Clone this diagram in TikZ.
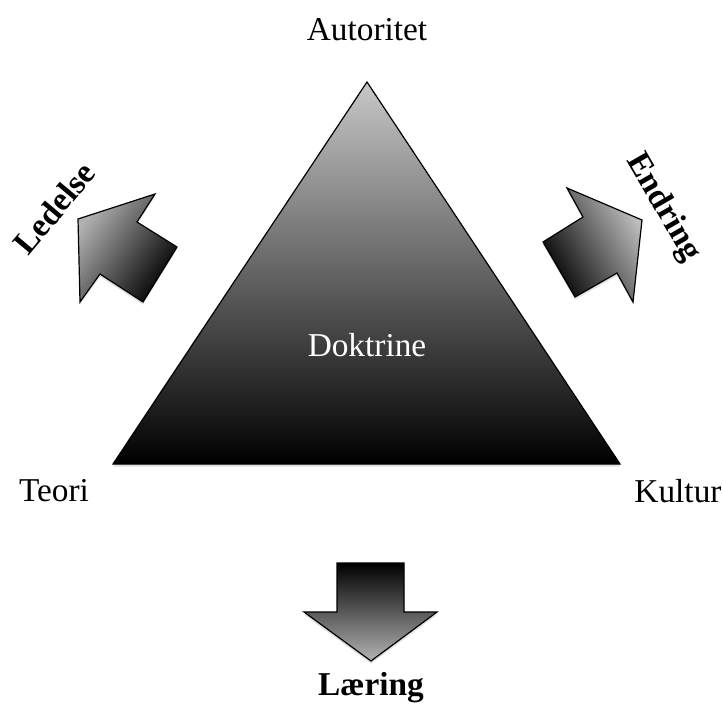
\documentclass[tikz,border=0pt]{standalone}
\usepackage{fontspec}
\setmainfont{Liberation Serif}
\usetikzlibrary{shadows}

\begin{document}
\begin{tikzpicture}[x=0.75pt,y=-0.75pt,
  lbl/.style={font=\fontsize{25}{30}\selectfont},
  blbl/.style={font=\fontsize{25}{30}\selectfont\bfseries},
  form/.style={draw=black, line width=0.9pt, line join=miter,
    drop shadow={opacity=0.25, shadow xshift=0pt, shadow yshift=-2pt}}]
  \useasboundingbox (0,0) rectangle (723,706);

  % triangle
  \coordinate (t0) at (367,82);
  \coordinate (t1) at (113,464);
  \coordinate (t2) at (620,464);

  \shade[form, top color=black!22, bottom color=black] (t0) -- (t1) -- (t2) -- cycle;

  % left arrow
  \coordinate (l0) at (78,219);
  \coordinate (l1) at (155,194);
  \coordinate (l2) at (137,222);
  \coordinate (l3) at (177,247);
  \coordinate (l4) at (143,302);
  \coordinate (l5) at (100,274);
  \coordinate (l6) at (80,302);

  \shade[form, top color=black!30, bottom color=black, shading angle=55]
    (l0) -- (l1) -- (l2) -- (l3) -- (l4) -- (l5) -- (l6) -- cycle;

  % right arrow
  \coordinate (r0) at (642,220);
  \coordinate (r1) at (567,188);
  \coordinate (r2) at (583,217);
  \coordinate (r3) at (543,242);
  \coordinate (r4) at (575,297);
  \coordinate (r5) at (617,273);
  \coordinate (r6) at (633,302);

  \shade[form, top color=black!25, bottom color=black, shading angle=-60]
    (r0) -- (r1) -- (r2) -- (r3) -- (r4) -- (r5) -- (r6) -- cycle;

  % bottom arrow
  \coordinate (b0) at (371,661);
  \coordinate (b1) at (304,612);
  \coordinate (b2) at (337,612);
  \coordinate (b3) at (337,563);
  \coordinate (b4) at (404,563);
  \coordinate (b5) at (404,612);
  \coordinate (b6) at (437,612);

  \shade[form, top color=black, bottom color=black!30]
    (b0) -- (b1) -- (b2) -- (b3) -- (b4) -- (b5) -- (b6) -- cycle;

  % labels
  \node[lbl] (autoritet) at (367,30) {Autoritet};
  \node[lbl] (teori) at (54,491) {Teori};
  \node[lbl] (kultur) at (678,491) {Kultur};
  \node[lbl, text=white] (doktrine) at (367,345) {Doktrine};
  \node[blbl, rotate=50] (ledelse) at (54,208) {Ledelse};
  \node[blbl, rotate=-60] (endring) at (663,208) {Endring};
  \node[blbl] (laering) at (371,688) {Læring};

\end{tikzpicture}
\end{document}
